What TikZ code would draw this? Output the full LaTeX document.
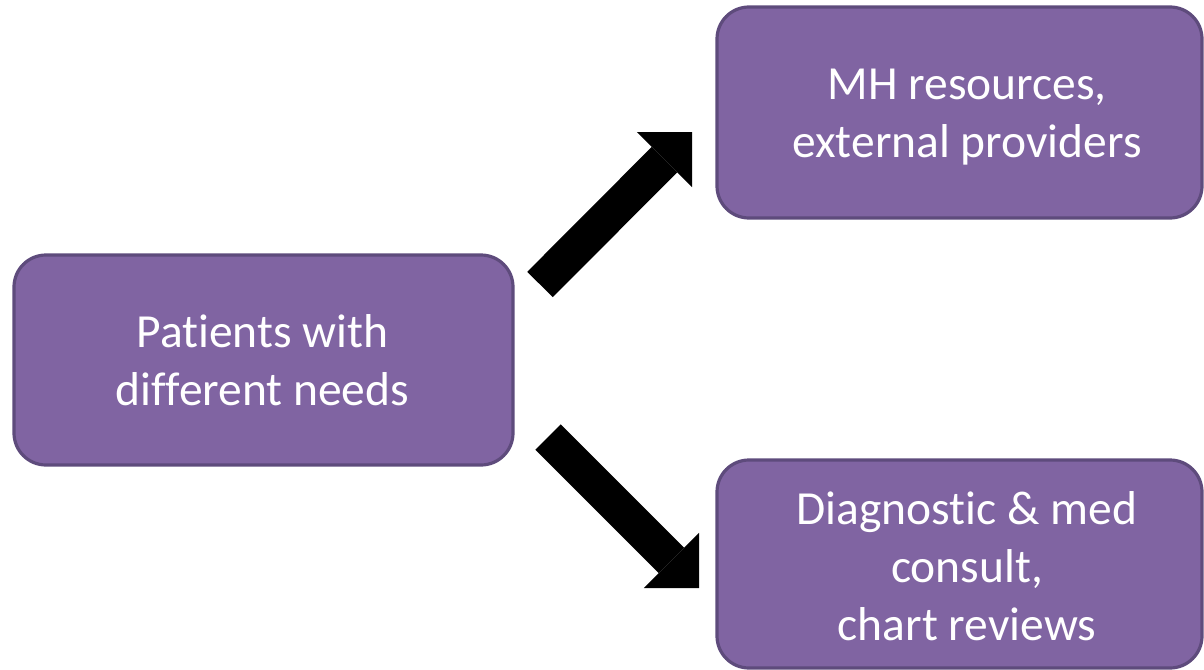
\documentclass[tikz,border=0pt]{standalone}
\usepackage{fontspec}
\setmainfont{Carlito}[Ligatures=NoCommon]
\usetikzlibrary{arrows.meta}
\definecolor{boxfill}{HTML}{8064A2}
\definecolor{boxline}{HTML}{5E4B7C}
\newcommand{\topstrut}{\rule{0pt}{40pt}}
\newcommand{\botstrut}{\rule[-12pt]{0pt}{12pt}}
\begin{document}
\begin{tikzpicture}[x=1pt,y=-1pt,
  box/.style={draw=boxline, fill=boxfill, line width=3.2pt, rounded corners=32pt,
    inner sep=0pt},
  txt/.style={inner sep=0pt, text=white, align=center,
    font=\fontsize{47.5}{58}\selectfont},
  blockarrow/.style={black, line width=36pt,
    -{Triangle[length=39pt,width=78pt,line width=0pt]}}]
\useasboundingbox (0,0) rectangle (1204,669);
\node[box, minimum width=499pt, minimum height=210pt] (pat) at (263.5,360) {};
\node[box, minimum width=485pt, minimum height=211pt] (mh) at (959.5,112.5) {};
\node[box, minimum width=485pt, minimum height=208pt] (diag) at (959.5,564) {};
\node[txt] (patT) at ([shift={(-1,2)}]pat.center)
  {\topstrut Patients with\\different needs\botstrut};
\node[txt] (mhT) at ([shift={(7.5,2)}]mh.center)
  {\topstrut MH resources,\\external providers\botstrut};
\node[txt] (diagT) at ([shift={(7.5,4)}]diag.center)
  {\topstrut Diagnostic \& med\\consult,\\chart reviews\botstrut};
\coordinate (upS) at (540,284.5);
\coordinate (upE) at (692,132);
\coordinate (dnS) at (548,437);
\coordinate (dnE) at (699,588);
\draw[blockarrow] (upS) -- (upE);
\draw[blockarrow] (dnS) -- (dnE);
\end{tikzpicture}
\end{document}
